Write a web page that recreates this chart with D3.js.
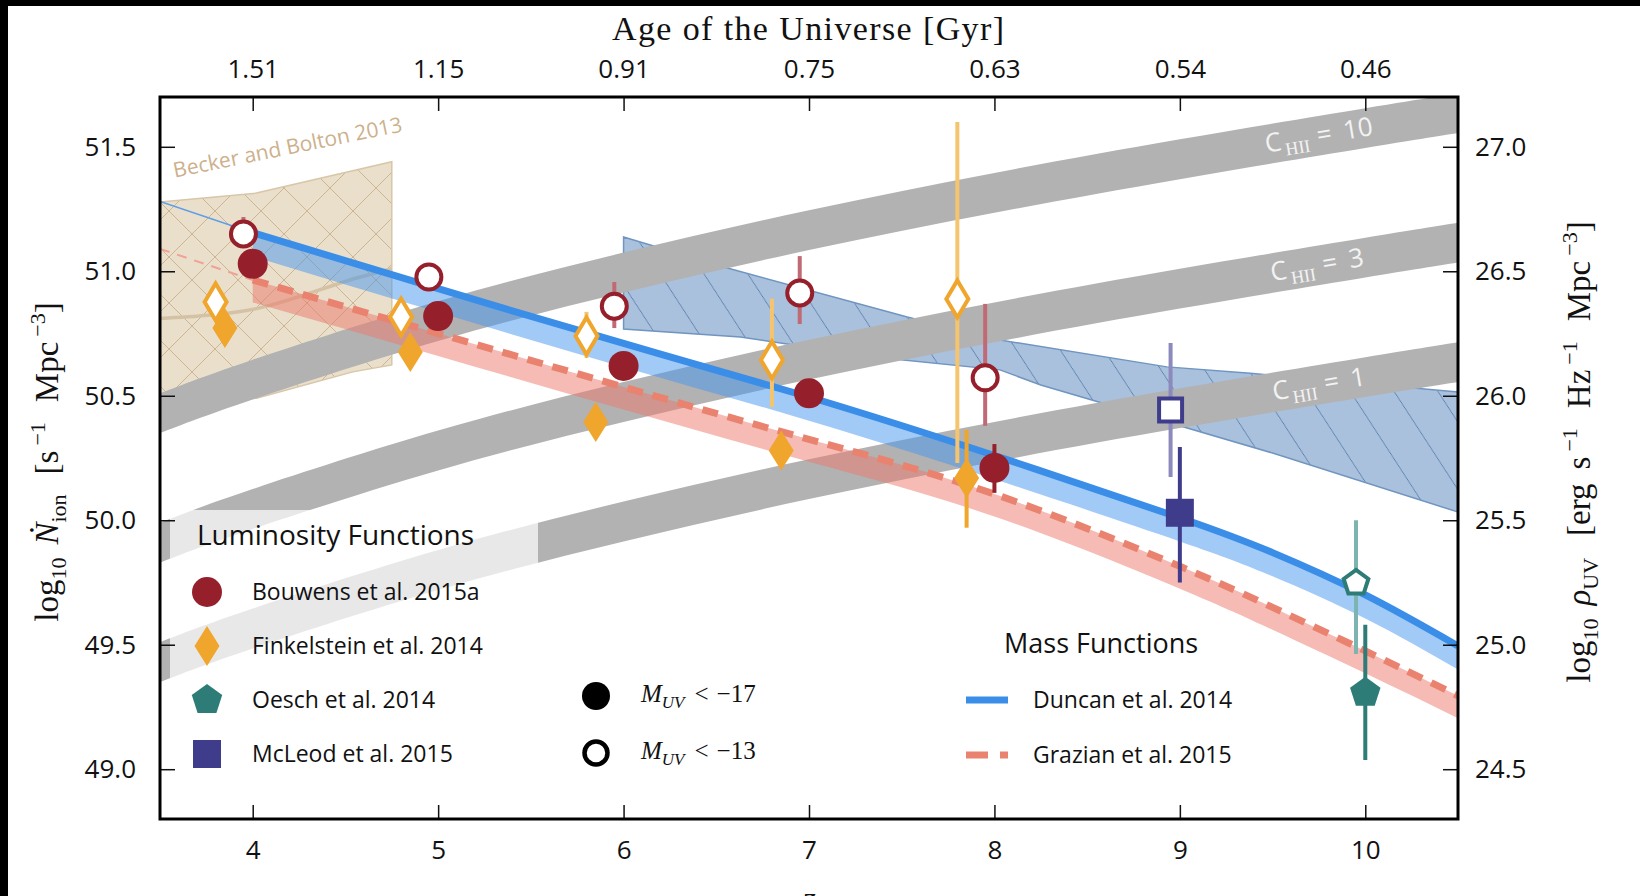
<!DOCTYPE html>
<html>
<head>
<meta charset="utf-8">
<script src="https://cdn.jsdelivr.net/npm/d3@7"></script>
<style>
  html, body { margin: 0; padding: 0; background: #fff; }
  svg { display: block; }
  .tick text { font-family: "Open Sans", sans-serif; font-size: 26px; fill: #111; }
  .tick line { stroke: #111; stroke-width: 1.5px; }
</style>
</head>
<body>
<svg id="chart" width="1640" height="896"></svg>
<script>
// ---------------- data ----------------
// redshift grid for the clumping-factor bands
const bandZ = [3.5, 4, 5, 6, 7, 8, 9, 10, 10.5];
const c1Low  = [49.35, 49.485, 49.72, 49.915, 50.085, 50.235, 50.37, 50.495, 50.555];
const c1High = [49.51, 49.645, 49.88, 50.075, 50.245, 50.395, 50.53, 50.655, 50.715];
const c3Low  = [49.83, 49.965, 50.20, 50.395, 50.565, 50.715, 50.85, 50.975, 51.035];
const c3High = [49.99, 50.125, 50.36, 50.555, 50.725, 50.875, 51.01, 51.135, 51.195];
const c10Low  = [50.35, 50.485, 50.72, 50.915, 51.085, 51.235, 51.37, 51.495, 51.555];
const c10High = [50.51, 50.645, 50.88, 51.075, 51.245, 51.395, 51.53, 51.655, 51.715];
const bandNames = ["1", "3", "10"];
const bandLabelZ = [9.5, 9.49, 9.46];

// mass-function estimates (first point: thin extension below z = 4)
const massZ = [3.5, 4, 5, 6, 7, 8, 9, 9.5, 10, 10.5];
const duncan    = [51.28, 51.155, 50.93, 50.71, 50.495, 50.26, 50.01, 49.87, 49.70, 49.495];
const duncanLow = [null, 51.06, 50.835, 50.615, 50.40, 50.165, 49.915, 49.775, 49.605, 49.40];
const grazian    = [51.09, 50.965, 50.75, 50.535, 50.325, 50.105, 49.815, 49.65, 49.475, 49.295];
const grazianLow = [null, 50.875, 50.66, 50.445, 50.235, 50.015, 49.725, 49.56, 49.385, 49.205];

// Becker & Bolton 2013 region
const beckerZ    = [3.5, 4.02, 4.75];
const beckerHigh = [51.278, 51.314, 51.44];
const beckerLowZ = [3.5, 4.02, 4.54, 4.75];
const beckerLow  = [50.47, 50.49, 50.596, 50.624];
const beckerMidZ = [3.5, 4.02, 4.58, 4.75];
const beckerMid  = [50.81, 50.85, 50.977, 51.01];

// hatched blue constraint region
const regionUpperZ = [6.0, 6.56, 7.53, 8.03, 8.93, 9.38, 10.5];
const regionUpper  = [51.138, 51.013, 50.816, 50.724, 50.616, 50.59, 50.515];
const regionLowerZ = [6.0, 6.63, 7.35, 8.03, 8.25, 9.5, 10.5];
const regionLower  = [50.768, 50.736, 50.656, 50.604, 50.543, 50.27, 50.033];

// luminosity-function points: M_UV < -17 (filled) and M_UV < -13 (open)
const bouwensZ17 = [4, 5, 6, 7, 8];
const bouwens17  = [51.03, 50.82, 50.62, 50.51, 50.21];
const bouwens17Lo = [50.98, 50.78, 50.58, 50.47, 50.11];
const bouwens17Hi = [51.08, 50.86, 50.66, 50.55, 50.306];
const bouwensZ13 = [3.95, 4.95, 5.95, 6.95, 7.95];
const bouwens13  = [51.15, 50.977, 50.86, 50.913, 50.572];
const bouwens13Lo = [51.10, 50.94, 50.772, 50.788, 50.379];
const bouwens13Hi = [51.218, 51.01, 50.957, 51.061, 50.869];

const finkelsteinZ17 = [3.85, 4.85, 5.85, 6.85, 7.85];
const finkelstein17  = [50.772, 50.676, 50.395, 50.28, 50.17];
const finkelstein17Lo = [50.73, 50.64, 50.36, 50.25, 49.97];
const finkelstein17Hi = [50.81, 50.71, 50.43, 50.31, 50.363];
const finkelsteinZ13 = [3.8, 4.8, 5.8, 6.8, 7.8];
const finkelstein13  = [50.877, 50.816, 50.74, 50.644, 50.889];
const finkelstein13Lo = [50.85, 50.79, 50.652, 50.455, 50.23];
const finkelstein13Hi = [50.91, 50.84, 50.837, 50.89, 51.6];

const oeschZ17 = [10.0], oesch17 = [49.307], oesch17Lo = [49.037], oesch17Hi = [49.58];
const oeschZ13 = [9.95], oesch13 = [49.748], oesch13Lo = [49.463], oesch13Hi = [50.0];
const mcleodZ17 = [9.0], mcleod17 = [50.03], mcleod17Lo = [49.75], mcleod17Hi = [50.294];
const mcleodZ13 = [8.95], mcleod13 = [50.443], mcleod13Lo = [50.174], mcleod13Hi = [50.712];

// axes
const zTicks = [4, 5, 6, 7, 8, 9, 10];
const ageLabels = ["1.51", "1.15", "0.91", "0.75", "0.63", "0.54", "0.46"];
const leftTicks = [49.0, 49.5, 50.0, 50.5, 51.0, 51.5];
const rightTicks = [24.5, 25.0, 25.5, 26.0, 26.5, 27.0];

// ---------------- scales ----------------
const x = d3.scaleLinear().domain([3.5, 10.5]).range([160, 1458]);
const y = d3.scaleLinear().domain([48.8, 51.7]).range([819, 97]);
const yUV = d3.scaleLinear().domain([24.3, 27.2]).range([819, 97]);

const svg = d3.select("#chart");
const defs = svg.append("defs");

defs.append("clipPath").attr("id", "plotClip")
  .append("rect")
  .attr("x", x.range()[0]).attr("y", y.range()[1])
  .attr("width", x.range()[1] - x.range()[0])
  .attr("height", y.range()[0] - y.range()[1]);

// single-diagonal hatch for the blue region
const hb = defs.append("pattern").attr("id", "hatchBlue")
  .attr("patternUnits", "userSpaceOnUse").attr("width", 52).attr("height", 52)
  .attr("patternTransform", "rotate(12)");
hb.append("path").attr("d", "M-13,-13 L65,65 M-13,39 L13,65 M39,-13 L65,13")
  .attr("stroke", "#557cab").attr("stroke-width", 1).attr("fill", "none");

// cross hatch for the Becker & Bolton region
const hx = defs.append("pattern").attr("id", "hatchTan")
  .attr("patternUnits", "userSpaceOnUse").attr("width", 46).attr("height", 46)
  .attr("patternTransform", "translate(8,4)");
hx.append("path").attr("d", "M0,0 L46,46 M46,0 L0,46")
  .attr("stroke", "#c9b08c").attr("stroke-width", 0.9).attr("fill", "none");

// black strips along the top and left edges of the figure
svg.append("rect").attr("x", 0).attr("y", 0).attr("width", 1640).attr("height", 6).attr("fill", "#000");
svg.append("rect").attr("x", 0).attr("y", 0).attr("width", 8).attr("height", 896).attr("fill", "#000");

const plot = svg.append("g").attr("clip-path", "url(#plotClip)");

// ---------------- hatched blue region ----------------
const regionPts = regionUpperZ.map((z, i) => [x(z), y(regionUpper[i])])
  .concat(regionLowerZ.map((z, i) => [x(z), y(regionLower[i])]).reverse());
const regionPath = d3.line()(regionPts) + "Z";
plot.append("path").attr("d", regionPath).attr("fill", "rgb(70,120,180)").attr("fill-opacity", 0.46);
plot.append("path").attr("d", regionPath).attr("fill", "url(#hatchBlue)");
plot.append("path").attr("d", regionPath).attr("fill", "none").attr("stroke", "#6f95c0").attr("stroke-width", 1.5);

// ---------------- Becker & Bolton region ----------------
const beckerPts = beckerZ.map((z, i) => [x(z), y(beckerHigh[i])])
  .concat(beckerLowZ.map((z, i) => [x(z), y(beckerLow[i])]).reverse());
const beckerPath = d3.line()(beckerPts) + "Z";
plot.append("path").attr("d", beckerPath).attr("fill", "#d9c4a0").attr("fill-opacity", 0.55);
plot.append("path").attr("d", beckerPath).attr("fill", "url(#hatchTan)");
plot.append("path").attr("d", beckerPath).attr("fill", "none").attr("stroke", "#d8c6a8").attr("stroke-width", 1.5);
plot.append("path")
  .attr("d", d3.line().curve(d3.curveMonotoneX)(beckerMidZ.map((z, i) => [x(z), y(beckerMid[i])])))
  .attr("fill", "none").attr("stroke", "#d4c2a4").attr("stroke-width", 3.5);

// ---------------- clumping-factor bands ----------------
const bandArea = d3.area().x(d => x(d.z)).y0(d => y(d.lo)).y1(d => y(d.hi)).curve(d3.curveNatural);
const bands = [
  { lo: c1Low, hi: c1High },
  { lo: c3Low, hi: c3High },
  { lo: c10Low, hi: c10High }
];
bands.forEach(b => {
  const rows = bandZ.map((z, i) => ({ z, lo: b.lo[i], hi: b.hi[i] }));
  plot.append("path").attr("d", bandArea(rows)).attr("fill", "#b2b2b2");
});

// ---------------- mass-function curves ----------------
const massRows = (vals, lows) => massZ.map((z, i) => ({ z, v: vals[i], lo: lows[i] }));
const dRows = massRows(duncan, duncanLow);
const gRows = massRows(grazian, grazianLow);
const thick = r => r.slice(1);
const thin = r => r.slice(0, 2);
const mArea = d3.area().x(d => x(d.z)).y0(d => y(d.lo)).y1(d => y(d.v)).curve(d3.curveNatural);
const mLine = d3.line().x(d => x(d.z)).y(d => y(d.v)).curve(d3.curveNatural);

plot.append("path").attr("d", mArea(thick(gRows))).attr("fill", "rgb(236,120,105)").attr("fill-opacity", 0.5);
plot.append("path").attr("d", mArea(thick(dRows))).attr("fill", "rgb(70,150,240)").attr("fill-opacity", 0.5);
plot.append("path").attr("d", mLine(thin(gRows))).attr("fill", "none")
  .attr("stroke", "#f0a297").attr("stroke-width", 2).attr("stroke-dasharray", "10,8");
plot.append("path").attr("d", mLine(thin(dRows))).attr("fill", "none")
  .attr("stroke", "#5c9ee8").attr("stroke-width", 1.5);
plot.append("path").attr("d", mLine(thick(gRows))).attr("fill", "none")
  .attr("stroke", "#e9836f").attr("stroke-width", 7).attr("stroke-dasharray", "16,10");
plot.append("path").attr("d", mLine(thick(dRows))).attr("fill", "none")
  .attr("stroke", "#3a8ee8").attr("stroke-width", 7);

// ---------------- band labels ----------------
const bandLabels = plot.append("g");
bands.forEach((b, i) => {
  const mid = bandZ.map((z, k) => (b.lo[k] + b.hi[k]) / 2);
  const f = d3.scaleLinear().domain(bandZ).range(mid);
  const z0 = bandLabelZ[i], z1 = z0 + 0.5;
  const px0 = x(z0), py0 = y(f(z0));
  const ang = Math.atan2(y(f(z1)) - py0, x(z1) - px0) * 180 / Math.PI;
  const t = bandLabels.append("text")
    .attr("transform", `translate(${px0},${py0}) rotate(${ang})`)
    .attr("y", 8)
    .attr("fill", "#f3f3f3")
    .style("font-family", "'Open Sans', sans-serif").style("font-size", "26px");
  t.append("tspan").text("C");
  t.append("tspan").attr("dy", 6).attr("dx", 3)
    .style("font-family", "'Liberation Serif', serif").style("font-size", "18px").text("HII");
  t.append("tspan").attr("dy", -6).attr("dx", 8).text("=");
  t.append("tspan").attr("dx", 12).text(bandNames[i]);
});

// Becker & Bolton label
plot.append("text")
  .attr("transform", `translate(${x(3.58)},${y(50.99) - 96}) rotate(-11.5)`)
  .attr("fill", "#cdb08c")
  .style("font-family", "'Open Sans', sans-serif").style("font-size", "21px")
  .text("Becker and Bolton 2013");

// ---------------- luminosity-function legend box ----------------
plot.append("rect").attr("x", 170).attr("y", 510).attr("width", 368).attr("height", 285)
  .attr("fill", "#fff").attr("fill-opacity", 0.7);

// ---------------- markers ----------------
const diamond = (w, h) => `M0,${-h / 2}L${w / 2},0L0,${h / 2}L${-w / 2},0Z`;
const pentagon = r => d3.range(5).map(k => {
  const a = (-90 + k * 72) * Math.PI / 180;
  return (k ? "L" : "M") + (r * Math.cos(a)).toFixed(2) + "," + (r * Math.sin(a)).toFixed(2);
}).join("") + "Z";
const square = s => `M${-s / 2},${-s / 2}h${s}v${s}h${-s}Z`;

const series = [
  { z: bouwensZ13, v: bouwens13, lo: bouwens13Lo, hi: bouwens13Hi, col: "#951f2a", err: "#c06a76", open: true, shape: "circle" },
  { z: bouwensZ17, v: bouwens17, lo: bouwens17Lo, hi: bouwens17Hi, col: "#951f2a", err: "#951f2a", open: false, shape: "circle" },
  { z: finkelsteinZ13, v: finkelstein13, lo: finkelstein13Lo, hi: finkelstein13Hi, col: "#f0a52d", err: "#f5c46e", open: true, shape: "diamond" },
  { z: finkelsteinZ17, v: finkelstein17, lo: finkelstein17Lo, hi: finkelstein17Hi, col: "#f0a52d", err: "#f0a52d", open: false, shape: "diamond" },
  { z: mcleodZ13, v: mcleod13, lo: mcleod13Lo, hi: mcleod13Hi, col: "#3e3c8b", err: "#8c89bd", open: true, shape: "square" },
  { z: mcleodZ17, v: mcleod17, lo: mcleod17Lo, hi: mcleod17Hi, col: "#3e3c8b", err: "#3e3c8b", open: false, shape: "square" },
  { z: oeschZ13, v: oesch13, lo: oesch13Lo, hi: oesch13Hi, col: "#2e7c77", err: "#7cb4af", open: true, shape: "pentagon" },
  { z: oeschZ17, v: oesch17, lo: oesch17Lo, hi: oesch17Hi, col: "#2e7c77", err: "#2e7c77", open: false, shape: "pentagon" }
];

function shapePath(shape, open) {
  if (shape === "diamond") return open ? diamond(22, 37) : diamond(25, 40);
  if (shape === "square") return open ? square(23) : square(28);
  if (shape === "pentagon") return open ? pentagon(13) : pentagon(16);
  return null;
}

function drawMarker(g, s, cx, cy) {
  if (s.shape === "circle") {
    g.append("circle").attr("cx", cx).attr("cy", cy).attr("r", s.open ? 12.5 : 15)
      .attr("fill", s.open ? "#fff" : s.col)
      .attr("stroke", s.open ? s.col : "none").attr("stroke-width", 4);
  } else {
    g.append("path").attr("d", shapePath(s.shape, s.open))
      .attr("transform", `translate(${cx},${cy})`)
      .attr("fill", s.open ? "#fff" : s.col)
      .attr("stroke", s.open ? s.col : "none").attr("stroke-width", 4)
      .attr("stroke-linejoin", "miter");
  }
}

const pts = plot.append("g");
series.forEach(s => {
  s.z.forEach((z, i) => {
    pts.append("line").attr("x1", x(z)).attr("x2", x(z))
      .attr("y1", y(s.lo[i])).attr("y2", y(s.hi[i]))
      .attr("stroke", s.err).attr("stroke-width", 4);
  });
});
series.forEach(s => {
  s.z.forEach((z, i) => drawMarker(pts, s, x(z), y(s.v[i])));
});

// ---------------- legends ----------------
const sans = "'Open Sans', sans-serif";
const lg = svg.append("g");
lg.append("text").attr("x", 197).attr("y", 545).style("font-family", sans).style("font-size", "28px")
  .attr("fill", "#111").text("Luminosity Functions");
const lumEntries = [
  { name: "Bouwens et al. 2015a", s: series[1] },
  { name: "Finkelstein et al. 2014", s: series[3] },
  { name: "Oesch et al. 2014", s: series[7] },
  { name: "McLeod et al. 2015", s: series[5] }
];
lumEntries.forEach((e, i) => {
  const cy = 592 + i * 54;
  drawMarker(lg, e.s, 207, cy);
  lg.append("text").attr("x", 252).attr("y", cy + 8).style("font-family", sans).style("font-size", "23px")
    .attr("fill", "#111").text(e.name);
});

// M_UV symbol legend
const muv = [{ open: false, lim: "17" }, { open: true, lim: "13" }];
muv.forEach((m, i) => {
  const cy = 696 + i * 57;
  lg.append("circle").attr("cx", 596).attr("cy", cy).attr("r", m.open ? 11.5 : 14)
    .attr("fill", m.open ? "#fff" : "#000").attr("stroke", m.open ? "#000" : "none").attr("stroke-width", 4.5);
  const t = lg.append("text").attr("x", 641).attr("y", cy + 6)
    .style("font-family", "'Liberation Serif', serif").style("font-size", "25px").attr("fill", "#111");
  t.append("tspan").style("font-style", "italic").text("M");
  t.append("tspan").attr("dy", 6).style("font-style", "italic").style("font-size", "17px").text("UV");
  t.append("tspan").attr("dy", -6).attr("dx", 10).text("<");
  t.append("tspan").attr("dx", 8).text("\u2212" + m.lim);
});

// mass-function legend
lg.append("text").attr("x", 1004).attr("y", 653).style("font-family", sans).style("font-size", "27px")
  .attr("fill", "#111").text("Mass Functions");
lg.append("line").attr("x1", 966).attr("x2", 1008).attr("y1", 700).attr("y2", 700)
  .attr("stroke", "#3a8ee8").attr("stroke-width", 7);
lg.append("text").attr("x", 1033).attr("y", 708).style("font-family", sans).style("font-size", "23px")
  .attr("fill", "#111").text("Duncan et al. 2014");
lg.append("line").attr("x1", 966).attr("x2", 1008).attr("y1", 755).attr("y2", 755)
  .attr("stroke", "#e9836f").attr("stroke-width", 7).attr("stroke-dasharray", "22,12");
lg.append("text").attr("x", 1033).attr("y", 763).style("font-family", sans).style("font-size", "23px")
  .attr("fill", "#111").text("Grazian et al. 2015");

// ---------------- axes ----------------
const axL = svg.append("g").attr("transform", `translate(${x.range()[0]},0)`)
  .call(d3.axisLeft(y).tickValues(leftTicks).tickFormat(d3.format(".1f")).tickSize(-15).tickPadding(24));
const axR = svg.append("g").attr("transform", `translate(${x.range()[1]},0)`)
  .call(d3.axisRight(yUV).tickValues(rightTicks).tickFormat(d3.format(".1f")).tickSize(-15).tickPadding(17));
const axB = svg.append("g").attr("transform", `translate(0,${y.range()[0]})`)
  .call(d3.axisBottom(x).tickValues(zTicks).tickFormat(d3.format("d")).tickSize(-14).tickPadding(22));
const axT = svg.append("g").attr("transform", `translate(0,${y.range()[1]})`)
  .call(d3.axisTop(x).tickValues(zTicks).tickFormat((d, i) => ageLabels[i]).tickSize(-14).tickPadding(19));
[axL, axR, axB, axT].forEach(a => a.select(".domain").remove());

// frame
svg.append("rect")
  .attr("x", x.range()[0]).attr("y", y.range()[1])
  .attr("width", x.range()[1] - x.range()[0]).attr("height", y.range()[0] - y.range()[1])
  .attr("fill", "none").attr("stroke", "#000").attr("stroke-width", 3);

// ---------------- axis titles ----------------
const serif = "'Liberation Serif', serif";
svg.append("text").attr("x", 808).attr("y", 40).attr("text-anchor", "middle")
  .attr("textLength", 392).attr("lengthAdjust", "spacing")
  .style("font-family", serif).style("font-size", "34px").attr("fill", "#111")
  .text("Age of the Universe [Gyr]");

svg.append("text").attr("x", 809).attr("y", 910).attr("text-anchor", "middle")
  .style("font-family", serif).style("font-style", "italic").style("font-size", "34px").attr("fill", "#111")
  .text("z");

// rotated axis title with sub/superscripts; each part may carry extra leading space (dx)
function mathLabel(tx, ty, parts) {
  const t = svg.append("text").attr("transform", `translate(${tx},${ty}) rotate(-90)`)
    .attr("text-anchor", "middle")
    .style("font-family", serif).style("font-size", "33px").attr("fill", "#111");
  let shift = 0;
  parts.forEach(p => {
    const want = p.k === "sub" ? 8 : p.k === "sup" ? -13 : 0;
    const sp = t.append("tspan").attr("dy", want - shift).attr("dx", p.dx || 0).text(p.t);
    shift = want;
    if (p.k) sp.style("font-size", "22px");
    if (p.i) sp.style("font-style", "italic");
  });
  return t;
}

mathLabel(58, 462, [
  { t: "log" }, { t: "10", k: "sub" }, { t: "\u1E44", i: true, dx: 13 }, { t: "ion", k: "sub" },
  { t: "[s", dx: 20 }, { t: "\u22121", k: "sup", dx: 5 }, { t: "Mpc", dx: 20 }, { t: "\u22123", k: "sup", dx: 5 }, { t: "]" }
]);

mathLabel(1590, 452, [
  { t: "log" }, { t: "10", k: "sub" }, { t: "\u03C1", i: true, dx: 13 }, { t: "UV", k: "sub" },
  { t: "[erg", dx: 22 }, { t: "s", dx: 14 }, { t: "\u22121", k: "sup", dx: 5 }, { t: "Hz", dx: 20 },
  { t: "\u22121", k: "sup", dx: 5 }, { t: "Mpc", dx: 20 }, { t: "\u22123", k: "sup", dx: 5 }, { t: "]" }
]);
</script>
</body>
</html>
